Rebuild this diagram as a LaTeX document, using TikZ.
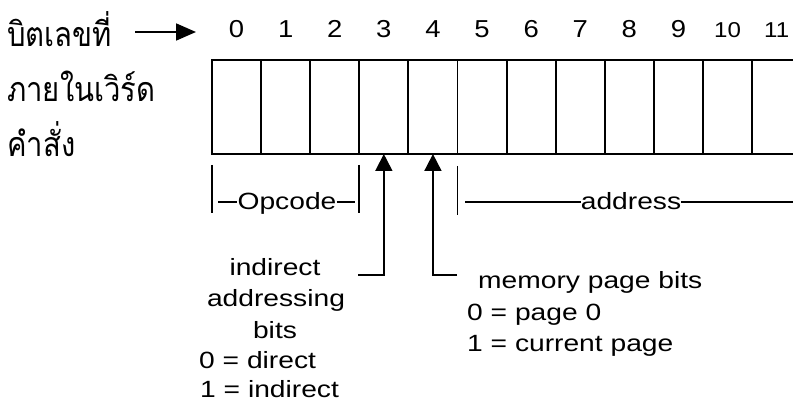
\documentclass[tikz,border=0pt]{standalone}
\usepackage{fontspec}
\setmainfont{Liberation Sans}
\newfontfamily\thaifont[Script=Thai]{Loma}
\usetikzlibrary{arrows.meta}
\tikzset{
  x=1pt, y=-1pt,
  cell/.style={draw, line width=1.9pt, minimum width=49.1pt, minimum height=94pt, inner sep=0pt, outer sep=0pt},
  bitnum/.style={font=\fontsize{24.5}{25}\selectfont, inner sep=0pt, anchor=base},
  bitnumsmall/.style={font=\fontsize{21.5}{22}\selectfont, inner sep=0pt, anchor=base},
  lbl/.style={font=\fontsize{23.5}{26}\selectfont, inner sep=0pt, anchor=base},
  thai/.style={font=\thaifont\fontsize{34}{36}\selectfont, inner sep=0pt, anchor=west},
  rule/.style={line width=1.8pt},
  pointer/.style={line width=1.8pt, -{Triangle[width=17pt,length=17pt]}},
}
\newcommand{\wide}[1]{\scalebox{1.2}[1]{#1}}
\newcommand{\digitw}[1]{\scalebox{1.12}[1]{#1}}
\newcommand{\thin}[1]{\scalebox{0.86}[1]{#1}}
\begin{document}
\begin{tikzpicture}
\useasboundingbox (0,0) rectangle (793,401);
\fill[white] (0,0) rectangle (793,401);

% the instruction word: twelve bit cells
\begin{scope}
  \clip (0,0) rectangle (793,401);
  \foreach \i in {0,...,11} {
    \node[cell] (c\i) at (236.55+49.1*\i, 107) {};
  }
\end{scope}

% bit numbers
\foreach \i in {0,...,9} {
  \node[bitnum] (n\i) at (c\i.center |- 0,38) {\digitw{\i}};
}
\node[bitnumsmall] (n10) at (c10.center |- 0,38) {\digitw{10}};
\node[bitnumsmall] (n11) at (c11.center |- 0,38) {\digitw{11}};

% Thai caption on the left
\node[thai] (t1) at (7,29) {\thin{บิตเลขที่}};
\node[thai] (t2) at (7,86) {\thin{ภายในเวิร์ด}};
\node[thai] (t3) at (7,139) {\thin{คำสั่ง}};
\coordinate (tA) at (135,32);
\coordinate (tB) at (196,32);
\draw[line width=1.8pt, -{Triangle[width=17pt,length=20pt]}] (tA) -- (tB);

% Opcode field
\node[lbl] (op) at (287,210) {\wide{Opcode}};
\draw[rule] (c0.south west |- 0,165) -- (c0.south west |- 0,213);
\draw[rule] (c3.south west |- 0,165) -- (c3.south west |- 0,213);
\coordinate (opL) at (218,202);
\coordinate (opR) at (355,202);
\draw[rule] (opL) -- (opL -| op.west);
\draw[rule] (opR -| op.east) -- (opR);

% address field
\node[lbl] (ad) at (631,210) {\wide{address}};
\draw[rule] (c5.south west |- 0,166) -- (c5.south west |- 0,215);
\coordinate (adL) at (465,202);
\coordinate (adR) at (793,202);
\draw[rule] (adL) -- (adL -| ad.west);
\draw[rule] (adR -| ad.east) -- (adR);

% indirect addressing bit
\coordinate (indK) at (358,275);
\draw[pointer] (indK) -| (c3.south);
\node[lbl] (indA) at (275,275) {\wide{indirect}};
\node[lbl] (indB) at (276,306) {\wide{addressing}};
\node[lbl] (indC) at (275,338) {\wide{bits}};
\node[lbl, anchor=base west] (ind0) at (199,368) {\wide{0 = direct}};
\node[lbl, anchor=base west] (ind1) at (200,397) {\wide{1 = indirect}};

% memory page bit
\coordinate (memK) at (457,275);
\draw[pointer] (memK) -| (c4.south);
\node[lbl, anchor=base west] (mem) at (478,288) {\wide{memory page bits}};
\node[lbl, anchor=base west] (mem0) at (467,320) {\wide{0 = page 0}};
\node[lbl, anchor=base west] (mem1) at (467,351) {\wide{1 = current page}};
\end{tikzpicture}
\end{document}
